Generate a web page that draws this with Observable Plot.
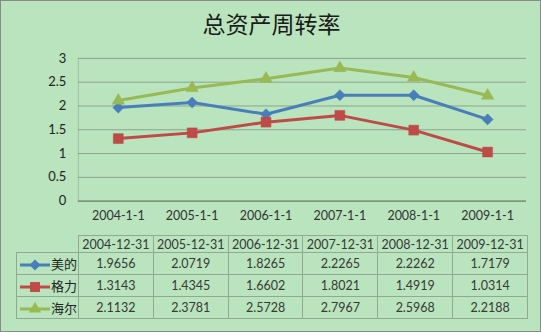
<!DOCTYPE html>
<html><head><meta charset="utf-8">
<script src="https://cdn.jsdelivr.net/npm/d3@7"></script>
<script src="https://cdn.jsdelivr.net/npm/@observablehq/plot@0.6"></script>
<style>
html,body{margin:0;padding:0;background:#fff;}
#wrap{position:relative;width:539px;height:330px;background:#b9e4bd;border:1px solid #8a8a8a;overflow:hidden;}
#title{position:absolute;left:0;top:6px;width:541px;text-align:center;font-family:"Noto Sans CJK SC";font-size:23px;color:#1a1a1a;line-height:32px;}
#chart{position:absolute;left:-1px;top:-1px;}
#tbl{position:absolute;left:15px;top:234px;width:512px;table-layout:fixed;border-collapse:collapse;font-family:Lato,"Noto Sans CJK SC";font-size:12.5px;color:#383838;}
#tbl td{border:1px solid #93a893;text-align:center;padding:0;overflow:hidden;white-space:nowrap;}
#tbl tr.h td{height:16px;}
#tbl tr.r td{height:21px;}
#tbl td.blank{border:none;border-bottom:1px solid #93a893;}
#tbl td.leg{text-align:left;font-family:"Noto Sans CJK SC";font-size:13px;color:#222;}
#tbl td.leg svg{vertical-align:middle;}
</style></head>
<body><div id="wrap"><div id="title">总资产周转率</div><div id="chart"></div><table id="tbl"></table></div>
<script>
const title = "总资产周转率";
const categories = ["2004-1-1","2005-1-1","2006-1-1","2007-1-1","2008-1-1","2009-1-1"];
const tableHeaders = ["2004-12-31","2005-12-31","2006-12-31","2007-12-31","2008-12-31","2009-12-31"];
const seriesNames = ["美的","格力","海尔"];
const meidi = [1.9656, 2.0719, 1.8265, 2.2265, 2.2262, 1.7179];
const geli  = [1.3143, 1.4345, 1.6602, 1.8021, 1.4919, 1.0314];
const haier = [2.1132, 2.3781, 2.5728, 2.7967, 2.5968, 2.2188];
const seriesValues = [meidi, geli, haier];
const colors = ["#4a7ebb", "#be4b48", "#98b954"];
const symbols = ["diamond2", "square", "triangle"];
const radii = [5.0, 5.6, 4.6];
const yTicks = [0, 0.5, 1, 1.5, 2, 2.5, 3];

const data = [];
seriesNames.forEach((s, i) => seriesValues[i].forEach((v, j) => data.push({series: s, cat: categories[j], value: v})));

const marks = [
  Plot.frame({anchor: "left", stroke: "#a3bda6"}),
  Plot.ruleY(yTicks.filter(d => d > 0), {y: d => d, stroke: "#8aa58d", strokeWidth: 1}),
  Plot.ruleY([0], {stroke: "#7d977f", strokeWidth: 2}),
  Plot.axisY({ticks: yTicks, tickFormat: d => String(d), tickSize: 0, tickPadding: 12, fontSize: 13, fontFamily: "Lato", color: "#222", label: null}),
  Plot.axisX({tickSize: 0, tickPadding: 10, fontSize: 12.5, fontFamily: "Lato", color: "#333", label: null})
];
seriesNames.forEach((s, i) => {
  const d = data.filter(r => r.series === s);
  marks.push(Plot.line(d, {x: "cat", y: "value", stroke: colors[i], strokeWidth: 3}));
  marks.push(Plot.dot(d, {x: "cat", y: "value", fill: colors[i], stroke: colors[i], strokeWidth: 0.5, symbol: () => symbols[i], r: radii[i]}));
});
const chart = Plot.plot({
  width: 541, height: 235,
  marginLeft: 78, marginRight: 14, marginTop: 58, marginBottom: 34,
  style: {background: "transparent", overflow: "visible"},
  x: {type: "point", domain: categories, padding: 0.5, align: 0.5},
  y: {domain: [0, 3], range: [201, 58]},
  symbol: {type: "identity"},
  marks
});
document.getElementById("chart").appendChild(chart);

// table
const tbl = d3.select("#tbl");
const colW = (527 - 78) / categories.length;
const cg = tbl.append("colgroup");
cg.append("col").style("width", "62px");
categories.forEach(() => cg.append("col").style("width", colW + "px"));
const hr = tbl.append("tr").attr("class", "h");
hr.append("td").attr("class", "blank");
tableHeaders.forEach(h => hr.append("td").text(h));
seriesNames.forEach((s, i) => {
  const tr = tbl.append("tr").attr("class", "r");
  const leg = tr.append("td").attr("class", "leg");
  const sv = leg.append("svg").attr("width", 32).attr("height", 14).style("margin-left", "2px");
  sv.append("line").attr("x1", 1).attr("x2", 31).attr("y1", 7).attr("y2", 7).attr("stroke", colors[i]).attr("stroke-width", 3);
  const sym = {diamond2: d3.symbolDiamond2, square: d3.symbolSquare, triangle: d3.symbolTriangle}[symbols[i]];
  sv.append("path").attr("d", d3.symbol(sym, radii[i] * radii[i] * Math.PI)()).attr("transform", "translate(16,7)").attr("fill", colors[i]);
  leg.append("span").text(s);
  seriesValues[i].forEach(v => tr.append("td").text(v.toFixed(4)));
});
</script></body></html>
